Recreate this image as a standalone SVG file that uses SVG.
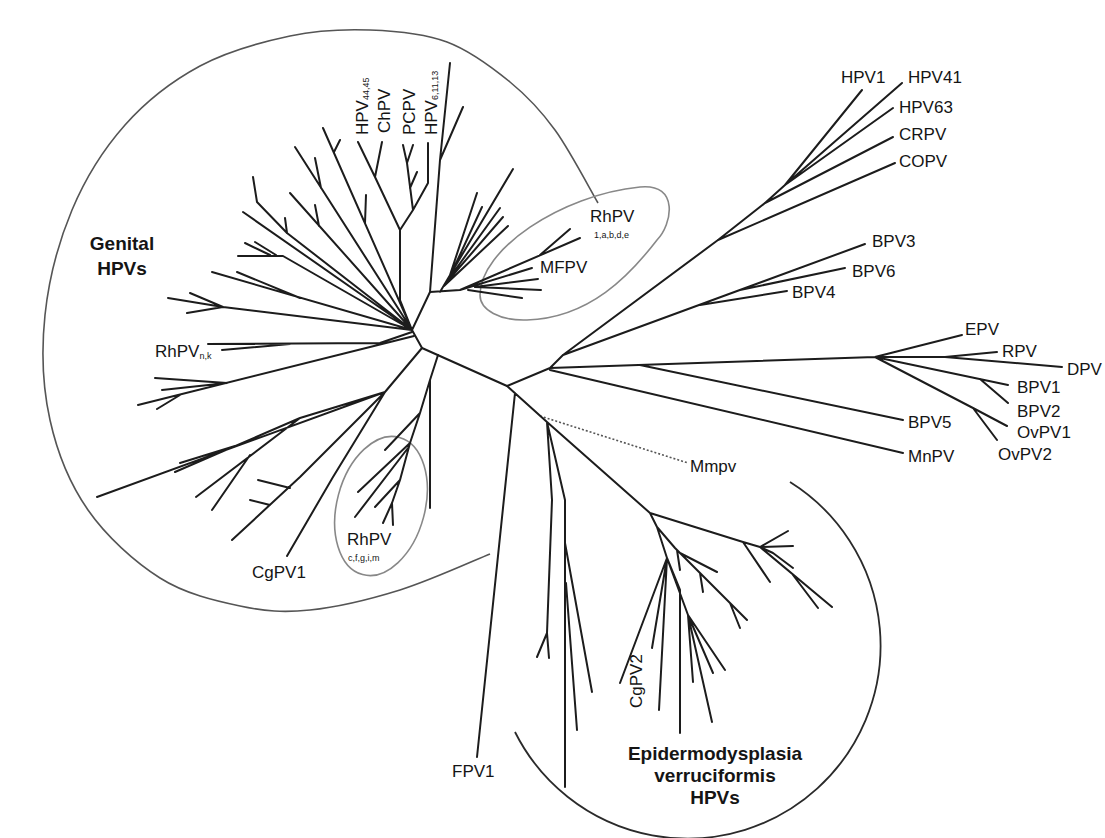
<svg xmlns="http://www.w3.org/2000/svg" width="1105" height="838" viewBox="0 0 1105 838">
<style>
.br{fill:none;stroke:#1c1c1c;stroke-width:2;stroke-linecap:round;stroke-linejoin:round}
.dot{fill:none;stroke:#555;stroke-width:1.6;stroke-dasharray:2 2}
.ring{fill:none;stroke:#555;stroke-width:1.6}
.ring2{fill:none;stroke:#888;stroke-width:1.6}
.ring3{fill:none;stroke:#2a2a2a;stroke-width:1.8}
.lbl{font-family:'Liberation Sans',Arial,sans-serif;font-size:17px;fill:#151515}
.sub{font-size:9px}
.big{font-family:'Liberation Sans',Arial,sans-serif;font-size:19px;font-weight:bold;fill:#151515;text-anchor:middle}
</style>
<rect width="1105" height="838" fill="#fff"/>
<g id="rings">
<path class="ring" d="M598,203 C590.8,190.8 569.7,150.2 555,130 C540.3,109.8 528,96.7 510,82 C492,67.3 470.3,50.7 447,42 C423.7,33.3 396.2,31 370,30 C343.8,29 318.3,30 290,36 C261.7,42 227.5,51.2 200,66 C172.5,80.8 146.3,101 125,125 C103.7,149 85.3,178.3 72,210 C58.7,241.7 48.7,280 45,315 C41.3,350 42.8,387.5 50,420 C57.2,452.5 69.7,483.7 88,510 C106.3,536.3 134.7,562 160,578 C185.3,594 215,600.7 240,606 C265,611.3 283.3,612.7 310,610 C336.7,607.3 370,599.3 400,590 C430,580.7 475,560 490,554"/>
<path class="ring2" d="M480,295 C480,250 560,195 640,187 C680,183 672,225 657,240 C630,275 590,318 527,320 C500,321 480,310 480,295 Z"/>
<ellipse class="ring2" cx="381" cy="506" rx="44" ry="71" transform="rotate(15 381 506)"/>
<path class="ring3" d="M790,482 A193,193 0 1 1 515,732"/>
</g>
<g id="connectors">
<path class="br" d="M412,330 L430,292 L440,160 L450,63 M440,160 L463,107
M440,292 L513,169 M450,275 L477,193 M452,272 L482,207 M448,280 L500,208 M446,283 L503,217 M444,286 L508,226
M430,292 L460,290 L580,238 M540,255 L570,229 M460,290 L532,268 M475,287 L538,279 M475,287 L541,290 M468,290 L522,298
M412,330 L400,300 L400,230 L375,177 L358,142 M375,177 L382,142 M400,230 L413,210 L407,163 L403,145 M407,163 L413,145 M410,188 L417,172 M413,210 L428,183 L428,143
M412,330 L323,128 M334,152 L340,140 M365,223 L366,195
M412,330 L295,147 M321,188 L315,158
M412,330 L290,193 M319,226 L315,205
M412,330 L243,212
M412,330 L287,233 L257,202 L253,177 M287,233 L285,218
M412,330 L283,256 L238,256 M270,255 L245,243 M276,255 L255,242
M412,330 L212,272 M300,298 L237,272
M412,330 L223,307 L168,298 M223,307 L190,293 M223,307 L187,313
M412,332 L380,343 L208,344 M290,344 L222,350
M414,336 L138,405 M227,383 L155,378 M227,383 L162,390 M180,395 L157,409
M422,348 L385,392 L97,497
M385,392 L300,418 L175,472 M235,446 L180,463 M300,418 L196,497 M250,455 L212,510
M385,392 L300,477 L232,540 M290,488 L258,480 M270,505 L250,500
M385,392 L333,477 L287,556
M438,355 L430,380 L430,508 M430,380 L420,413 L410,443 L400,480 L392,503 L383,523 M392,503 L393,525 M420,413 L385,450 M410,443 L358,492 M408,448 L355,517 M400,480 L375,507"/>
<path class="br" d="M412,330 L422,348 L507,386 L550,368 L563,355 L718,240 L765,203 L785,185 L902,83 M785,185 L862,90 M765,203 L893,137 M785,185 L893,108 M718,240 L895,163
M563,355 L865,244 M700,305 L787,291 M740,290 L845,268
M550,368 L875,357 L962,335 M875,357 L945,357 L997,352 M945,357 L1062,367 M875,357 L1008,385 M980,379 L1008,403 M875,357 L973,408 L1007,426 M973,408 L997,440
M640,365 L903,420 M550,370 L903,453"/>
<path class="dot" d="M540,416 L688,463"/>
<path class="br" d="M507,386 L547,422 L650,513 M515,393 L477,757
M547,422 L552,500 L547,633 L537,657 M547,633 L549,658
M547,422 L565,500 L565,787 M565,543 L592,692 M566,583 L577,730
M650,513 L743,542 L760,547 L788,531 M760,547 L793,546 M760,547 L773,553 L793,568 M760,547 L832,607 M793,575 L818,608 M743,542 L770,582
M650,513 L657,527 L675,548 L747,620 M680,553 L717,572 M677,550 L680,570 M700,573 L703,592 M730,603 L740,628
M657,527 L667,558 L620,683 M667,558 L652,648 M667,558 L659,710 M667,558 L680,590 L680,733 M667,558 L688,615 L725,670 M688,615 L713,673 M688,615 L712,722 M688,615 L693,682"/>
</g>
<g id="n-genital"><text class="big" x="122" y="250">Genital</text><text class="big" x="122" y="275">HPVs</text></g>
<g id="n-ev"><text class="big" x="715" y="760">Epidermodysplasia</text><text class="big" x="715" y="782">verruciformis</text><text class="big" x="715" y="804">HPVs</text></g>
<g id="n-hpv4445"><text class="lbl" transform="translate(368,135) rotate(-90)">HPV<tspan class="sub" dy="1">44,45</tspan></text></g>
<g id="n-chpv"><text class="lbl" transform="translate(390,133) rotate(-90)">ChPV</text></g>
<g id="n-pcpv"><text class="lbl" transform="translate(415,135) rotate(-90)">PCPV</text></g>
<g id="n-hpv61113"><text class="lbl" transform="translate(437,135) rotate(-90)">HPV<tspan class="sub" dy="1">6,11,13</tspan></text></g>
<g id="n-rhpv-top"><text class="lbl" x="590" y="222">RhPV</text><text class="lbl sub" x="594" y="238">1,a,b,d,e</text></g>
<g id="n-mfpv"><text class="lbl" x="540" y="273">MFPV</text></g>
<g id="n-rhpv-nk"><text class="lbl" x="155" y="357">RhPV<tspan class="sub" dy="2">n,k</tspan></text></g>
<g id="n-rhpv-bot"><text class="lbl" x="347" y="545">RhPV</text><text class="lbl sub" x="348" y="561">c,f,g,i,m</text></g>
<g id="n-cgpv1"><text class="lbl" x="252" y="578">CgPV1</text></g>
<g id="n-cgpv2"><text class="lbl" transform="translate(642,708) rotate(-90)">CgPV2</text></g>
<g id="n-fpv1"><text class="lbl" x="452" y="777">FPV1</text></g>
<g id="n-mmpv"><text class="lbl" x="690" y="472">Mmpv</text></g>
<g id="n-hpv1"><text class="lbl" x="841" y="83">HPV1</text></g>
<g id="n-hpv41"><text class="lbl" x="908" y="83">HPV41</text></g>
<g id="n-hpv63"><text class="lbl" x="899" y="113">HPV63</text></g>
<g id="n-crpv"><text class="lbl" x="899" y="140">CRPV</text></g>
<g id="n-copv"><text class="lbl" x="899" y="167">COPV</text></g>
<g id="n-bpv3"><text class="lbl" x="872" y="247">BPV3</text></g>
<g id="n-bpv6"><text class="lbl" x="852" y="277">BPV6</text></g>
<g id="n-bpv4"><text class="lbl" x="792" y="298">BPV4</text></g>
<g id="n-epv"><text class="lbl" x="965" y="335">EPV</text></g>
<g id="n-rpv"><text class="lbl" x="1002" y="357">RPV</text></g>
<g id="n-dpv"><text class="lbl" x="1067" y="375">DPV</text></g>
<g id="n-bpv1"><text class="lbl" x="1017" y="393">BPV1</text></g>
<g id="n-bpv2"><text class="lbl" x="1017" y="417">BPV2</text></g>
<g id="n-ovpv1"><text class="lbl" x="1017" y="438">OvPV1</text></g>
<g id="n-ovpv2"><text class="lbl" x="998" y="460">OvPV2</text></g>
<g id="n-bpv5"><text class="lbl" x="908" y="428">BPV5</text></g>
<g id="n-mnpv"><text class="lbl" x="908" y="462">MnPV</text></g>
</svg>
